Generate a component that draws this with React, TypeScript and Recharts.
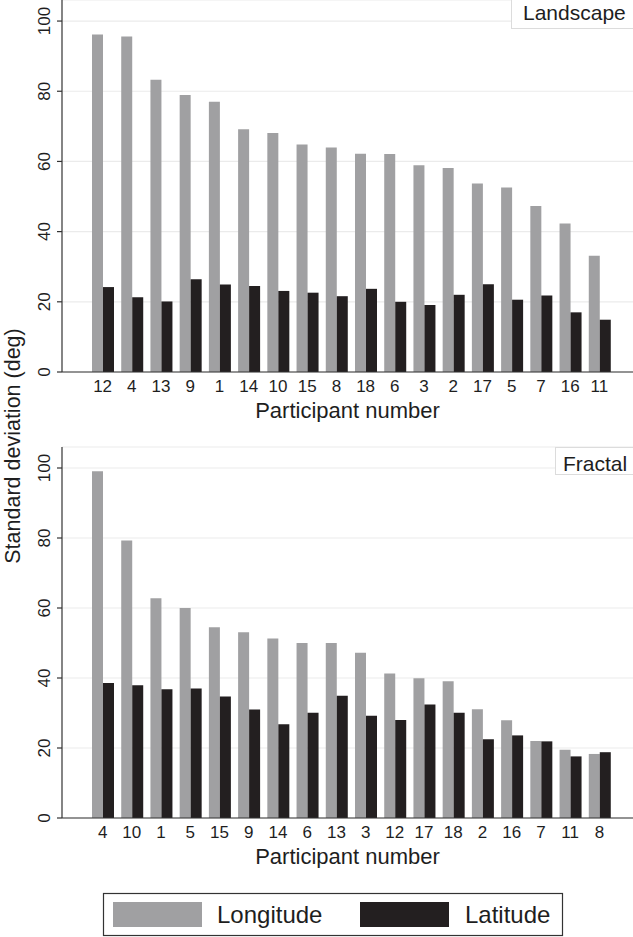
import React from 'react';
import { BarChart, Bar, XAxis, YAxis, CartesianGrid, Label } from 'recharts';

const landscapeParticipants = ['12', '4', '13', '9', '1', '14', '10', '15', '8', '18', '6', '3', '2', '17', '5', '7', '16', '11'];
const landscapeLongitude = [96.2, 95.6, 83.3, 78.9, 77.0, 69.2, 68.1, 64.8, 64.0, 62.2, 62.1, 58.9, 58.1, 53.7, 52.6, 47.3, 42.3, 33.1];
const landscapeLatitude = [24.2, 21.3, 20.1, 26.4, 24.9, 24.5, 23.1, 22.6, 21.6, 23.7, 20.0, 19.1, 22.0, 25.0, 20.6, 21.8, 17.0, 14.9];

const fractalParticipants = ['4', '10', '1', '5', '15', '9', '14', '6', '13', '3', '12', '17', '18', '2', '16', '7', '11', '8'];
const fractalLongitude = [99.1, 79.3, 62.8, 60.0, 54.5, 53.1, 51.3, 50.0, 50.0, 47.2, 41.3, 39.9, 39.1, 31.1, 27.9, 22.0, 19.5, 18.3];
const fractalLatitude = [38.6, 37.9, 36.8, 37.0, 34.7, 31.0, 26.8, 30.1, 34.9, 29.2, 28.0, 32.4, 30.1, 22.5, 23.6, 21.9, 17.6, 18.8];

const yTicks = [0, 20, 40, 60, 80, 100];
const seriesNames = ['Longitude', 'Latitude'];
const panelTitles = ['Landscape', 'Fractal'];
const xTitle = 'Participant number';
const yTitle = 'Standard deviation (deg)';

const GREY = '#a0a0a2';
const BLACK = '#231f20';
const TEXT = '#1e1e1e';
const FONT = '"Liberation Sans", Arial, Helvetica, sans-serif';

const build = (parts: string[], lon: number[], lat: number[]) =>
  parts.map((p, i) => ({ p, lon: lon[i], lat: lat[i] }));

const landscapeData = build(landscapeParticipants, landscapeLongitude, landscapeLatitude);
const fractalData = build(fractalParticipants, fractalLongitude, fractalLatitude);

const YTick = (props: any) => {
  const { x, y, payload } = props;
  return (
    <text transform={`translate(${x - 5},${y}) rotate(-90)`} textAnchor="middle" fontSize={17} fill={TEXT}>
      {payload.value}
    </text>
  );
};

const Panel = ({ data, top, height }: { data: any[]; top: number; height: number }) => (
  <BarChart
    width={633}
    height={height}
    data={data}
    margin={{ top, right: 0, bottom: 0, left: 0 }}
    barGap={0}
    barSize={11}
  >
    <CartesianGrid vertical={false} stroke="#ebebeb" strokeWidth={1.2} />
    <XAxis
      dataKey="p"
      type="category"
      interval={0}
      height={50}
      tickLine={false}
      axisLine={{ stroke: '#333', strokeWidth: 1.2 }}
      tick={{ fontSize: 17, fill: TEXT }}
      padding={{ left: 26, right: 19 }}
    >
      <Label value={xTitle} position="insideBottom" offset={4} fontSize={22} fill={TEXT} />
    </XAxis>
    <YAxis
      width={62}
      domain={[0, 106]}
      ticks={yTicks}
      interval={0}
      tickSize={5}
      tickMargin={2}
      axisLine={{ stroke: '#333', strokeWidth: 1.2 }}
      tickLine={{ stroke: '#333', strokeWidth: 1.2 }}
      tick={<YTick />}
    />
    <Bar dataKey="lon" name={seriesNames[0]} fill={GREY} isAnimationActive={false} />
    <Bar dataKey="lat" name={seriesNames[1]} fill={BLACK} isAnimationActive={false} />
  </BarChart>
);

export default function App() {
  return (
    <div
      style={{
        position: 'absolute',
        left: 0,
        top: 0,
        width: 633,
        height: 937,
        background: '#fff',
        fontFamily: FONT,
        overflow: 'hidden',
      }}
    >
      <div style={{ position: 'absolute', left: 0, top: 0 }}>
        <Panel data={landscapeData} top={0} height={422} />
      </div>
      <div style={{ position: 'absolute', left: 0, top: 422 }}>
        <Panel data={fractalData} top={25} height={446} />
      </div>
      <svg
        width={633}
        height={937}
        style={{ position: 'absolute', left: 0, top: 0, pointerEvents: 'none', fontFamily: FONT }}
      >
        <text transform="translate(20,446) rotate(-90)" textAnchor="middle" fontSize={21.5} fill={TEXT}>
          {yTitle}
        </text>
        <rect x={511.5} y={-1.5} width={125} height={30} fill="#fff" stroke="#dcdcdc" />
        <text x={523} y={20} fontSize={21} fill={TEXT}>
          {panelTitles[0]}
        </text>
        <rect x={555.5} y={447.5} width={80} height={27} fill="#fff" stroke="#dcdcdc" />
        <text x={563} y={471} fontSize={21} fill={TEXT}>
          {panelTitles[1]}
        </text>
        <rect x={103.5} y={893.5} width={459} height={42} fill="#fff" stroke="#333" strokeWidth={1.2} />
        <rect x={113} y={902} width={89} height={25} fill={GREY} />
        <text x={217} y={923} fontSize={24} fill={TEXT}>
          {seriesNames[0]}
        </text>
        <rect x={360} y={902} width={89} height={25} fill={BLACK} />
        <text x={465} y={923} fontSize={24} fill={TEXT}>
          {seriesNames[1]}
        </text>
      </svg>
    </div>
  );
}
